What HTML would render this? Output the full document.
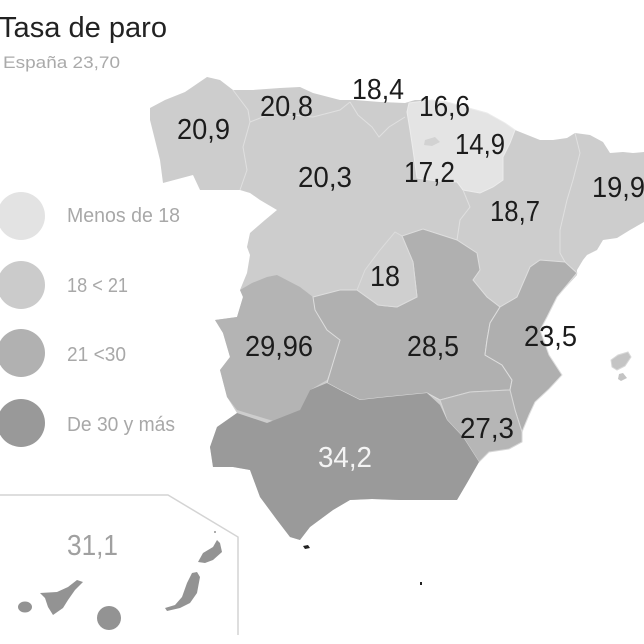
<!DOCTYPE html>
<html><head><meta charset="utf-8"><style>
html,body{margin:0;padding:0;background:#fff;width:644px;height:644px;overflow:hidden}
svg{display:block}
text{font-family:"Liberation Sans",sans-serif}
</style></head><body>
<svg width="644" height="644" viewBox="0 0 644 644" xmlns="http://www.w3.org/2000/svg">
<rect width="644" height="644" fill="#fff"/>
<!-- mainland base -->
<polygon fill="#cdcdcd" points="150,108 165,100 185,92 207,77 220,80 233,90 253,90 280,88 300,87 313,93 340,100 355,100 380,102 405,103 415,100 432,100 447,102 465,107 487,113 505,123 515,130 540,140 553,140 567,138 575,133 590,135 603,142 610,153 623,152 633,153 644,152 644,222 630,230 617,238 603,240 597,250 587,255 583,260 577,270 577,275 557,297 547,317 540,330 549,355 562,375 549,389 535,402 529,415 522,432 522,442 509,449 489,452 479,462 467,483 457,500 433,500 400,500 372,499 350,500 333,510 310,527 300,540 290,537 277,520 260,497 250,470 233,467 213,467 210,447 217,427 237,413 227,397 220,370 230,357 223,333 215,320 237,317 243,297 240,290 247,273 250,255 247,247 250,233 265,220 277,210 260,200 250,193 240,190 200,190 193,175 163,183 160,160 155,140 150,120"/>
<!-- light: PV, Navarra, La Rioja -->
<polygon fill="#e4e4e4" stroke="#ececec" stroke-width="1" points="409,103 432,100 447,102 465,107 487,113 505,123 515,130 510,143 503,157 503,180 493,187 480,193 463,190 457,182 437,181 417,178 413,150 410,130 407,112"/>
<polygon fill="#d2d2d2" points="425,140 435,137 440,142 432,146 424,145"/>
<!-- Extremadura -->
<polygon fill="#b4b4b4" points="240,290 252,283 267,277 277,275 300,287 313,297 315,310 327,330 340,340 333,363 327,380 310,390 300,410 280,423 260,417 237,410 227,397 220,370 230,357 223,333 215,320 237,317 243,297"/>
<!-- CLM -->
<polygon fill="#b0b0b0" stroke="#dedede" stroke-width="1" points="313,297 340,290 357,290 378,305 397,307 417,297 413,262 402,236 423,229 457,240 477,253 480,270 473,280 487,297 500,307 490,323 487,340 485,355 502,365 512,380 510,390 470,392 440,400 427,393 387,397 360,400 340,390 327,383 333,363 340,340 327,330 315,310"/>
<!-- Madrid -->
<polygon fill="#cfcfcf" stroke="#dcdcdc" stroke-width="1" points="357,290 365,270 380,250 395,232 402,236 413,262 417,297 397,307 378,305"/>
<!-- Valencia -->
<polygon fill="#afafaf" stroke="#dedede" stroke-width="1" points="540,260 565,262 577,273 557,297 547,317 540,330 549,355 562,375 549,389 535,402 529,415 522,432 515,410 510,390 512,380 502,365 485,355 487,340 490,323 500,307 517,297 530,267"/>
<!-- Murcia -->
<polygon fill="#b6b6b6" stroke="#d6d6d6" stroke-width="1" points="440,400 470,392 510,390 515,410 522,432 522,442 509,449 489,452 479,462 463,437 447,420"/>
<!-- Andalucia -->
<polygon fill="#9a9a9a" points="237,413 267,423 300,410 310,390 327,383 340,390 360,400 387,397 427,393 440,405 447,420 463,437 479,462 467,483 457,500 433,500 400,500 372,499 350,500 333,510 310,527 300,540 290,537 277,520 260,497 250,470 233,467 213,467 210,447 217,427"/>
<!-- internal boundaries same colour -->
<g fill="none" stroke="#e0e0e0" stroke-width="1">
<polyline points="233,90 248,110 250,122 243,147 247,170 240,190"/>
<polyline points="250,122 273,113 313,117 340,110 350,102"/>
<polyline points="350,102 358,115 372,127 379,137 389,127 405,117"/>
<polyline points="463,190 470,207 460,220 457,240"/>
<polyline points="575,133 580,153 573,180 567,200 560,230 560,253 565,262"/>
</g>
<!-- Baleares -->
<polygon fill="#c4c4c4" stroke="#d8d8d8" stroke-width="1" points="611,360 618,355 628,352 631,357 625,366 617,370 612,367"/>
<polygon fill="#c4c4c4" points="619,374 623,373 627,378 621,381 618,379"/>
<!-- Ceuta / Melilla -->
<polygon fill="#222" points="303,546 308,545 310,548 305,549"/>
<rect x="420" y="582" width="2" height="3" fill="#222"/>
<!-- Canarias inset -->
<polyline fill="none" stroke="#d4d4d4" stroke-width="1.5" points="0,495 168,495 238,537 238,635"/>
<g fill="#939393">
<ellipse cx="25" cy="607" rx="7" ry="5.5"/>
<polygon points="40,593 57,592 68,587 77,580 83,582 75,590 68,600 63,608 53,615 48,607 45,598"/>
<circle cx="109" cy="618" r="12"/>
<polygon points="197,572 200,577 197,593 190,603 180,608 167,611 165,608 175,605 182,597 187,583 192,573"/>
<polygon points="198,562 203,553 213,547 217,540 220,543 222,552 213,560 205,563"/>
<circle cx="215" cy="532" r="1"/>
</g>
<!-- Title -->
<text x="-1" y="37" font-size="29" fill="#222" textLength="168" lengthAdjust="spacingAndGlyphs">Tasa de paro</text>
<text x="3" y="68" font-size="17" fill="#aaa" textLength="117" lengthAdjust="spacingAndGlyphs">España 23,70</text>
<!-- Legend -->
<circle cx="21" cy="216" r="24" fill="#e3e3e3"/>
<circle cx="21" cy="285" r="24" fill="#cbcbcb"/>
<circle cx="21" cy="353" r="24" fill="#b1b1b1"/>
<circle cx="21" cy="423" r="24" fill="#999"/>
<g font-size="20" fill="#a8a8a8">
<text x="67" y="222" textLength="113" lengthAdjust="spacingAndGlyphs">Menos de 18</text>
<text x="67" y="292" textLength="61" lengthAdjust="spacingAndGlyphs">18 &lt; 21</text>
<text x="67" y="361" textLength="59" lengthAdjust="spacingAndGlyphs">21 &lt;30</text>
<text x="67" y="431" textLength="108" lengthAdjust="spacingAndGlyphs">De 30 y más</text>
</g>
<!-- Map labels -->
<g font-size="29" fill="#1c1c1c" lengthAdjust="spacingAndGlyphs">
<text x="177" y="139" textLength="53" lengthAdjust="spacingAndGlyphs">20,9</text>
<text x="260" y="116" textLength="53" lengthAdjust="spacingAndGlyphs">20,8</text>
<text x="352" y="99" textLength="52" lengthAdjust="spacingAndGlyphs">18,4</text>
<text x="419" y="116" textLength="51" lengthAdjust="spacingAndGlyphs">16,6</text>
<text x="455" y="154" textLength="50" lengthAdjust="spacingAndGlyphs">14,9</text>
<text x="404" y="182" textLength="51" lengthAdjust="spacingAndGlyphs">17,2</text>
<text x="298" y="187" textLength="54" lengthAdjust="spacingAndGlyphs">20,3</text>
<text x="490" y="221" textLength="50" lengthAdjust="spacingAndGlyphs">18,7</text>
<text x="592" y="197" textLength="53" lengthAdjust="spacingAndGlyphs">19,9</text>
<text x="370" y="286" textLength="30" lengthAdjust="spacingAndGlyphs">18</text>
<text x="245" y="356" textLength="68" lengthAdjust="spacingAndGlyphs">29,96</text>
<text x="407" y="356" textLength="52" lengthAdjust="spacingAndGlyphs">28,5</text>
<text x="524" y="346" textLength="53" lengthAdjust="spacingAndGlyphs">23,5</text>
<text x="460" y="438" textLength="54" lengthAdjust="spacingAndGlyphs">27,3</text>
</g>
<text x="318" y="467" font-size="29" fill="#f4f4f4" textLength="54" lengthAdjust="spacingAndGlyphs">34,2</text>
<text x="67" y="555" font-size="29" fill="#a0a0a0" textLength="51" lengthAdjust="spacingAndGlyphs">31,1</text>
</svg>
</body></html>
